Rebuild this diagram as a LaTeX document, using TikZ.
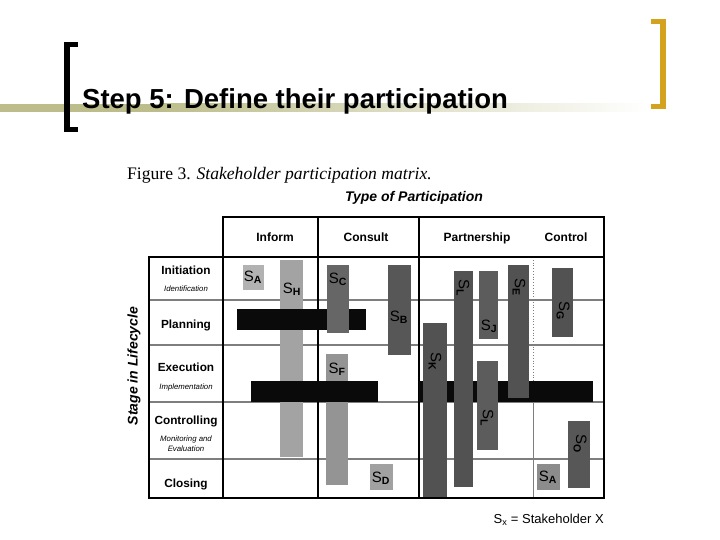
\documentclass[tikz,border=0pt]{standalone}
\usepackage{fontspec}
\setmainfont{Liberation Sans}
\newfontfamily\capfont{Liberation Serif}
\definecolor{gold}{HTML}{D4A21C}
\definecolor{khaki}{HTML}{BDBD8C}
\definecolor{gridgray}{HTML}{7E7E7E}
\definecolor{barblack}{HTML}{0A0A0A}
\tikzset{
  hdr/.style={font=\bfseries\fontsize{12}{14}\selectfont, inner sep=0, anchor=base},
  rowlab/.style={font=\bfseries\fontsize{11.8}{13}\selectfont, inner sep=0, anchor=base},
  sublab/.style={font=\itshape\fontsize{7.8}{9}\selectfont, inner sep=0, anchor=base},
  gridh/.style={draw=gridgray, line width=1.5pt},
  gridv/.style={draw=black, line width=1.2pt},
  framebox/.style={draw=black, line width=1.8pt},
  stk/.style={font=\fontsize{15}{16}\selectfont, inner sep=0, text=black},
  blackbar/.style={fill=barblack},
  speck/.style={fill=#1},
}
\newcommand\stkl[1]{S\textsubscript{\bfseries #1}}
\begin{document}
\begin{tikzpicture}[x=1pt,y=-1pt]
\useasboundingbox (0,0) rectangle (720,540);
\fill[white] (0,0) rectangle (720,540);
% title decoration
\fill[khaki] (0,104) rectangle (160,112);
\shade[left color=khaki, right color=white] (160,104) rectangle (650,112);
\fill[black] (64,42) rectangle (70,132);
\fill[black] (64,42) rectangle (78,47);
\fill[black] (64,127) rectangle (78,132);
\fill[gold] (660,19) rectangle (666,109);
\fill[gold] (651,19) rectangle (666,24);
\fill[gold] (651,104) rectangle (666,109);
\node[anchor=base west, inner sep=0, font=\bfseries\fontsize{27.5}{30}\selectfont] (title) at (82,109) {Step 5: Define their participation};
% caption
\node[anchor=west, inner sep=0, font=\capfont\fontsize{17.6}{20}\selectfont] (caption) at (127,175) {Figure 3. \textit{Stakeholder participation matrix.}};
\node[inner sep=0, font=\bfseries\itshape\fontsize{14}{16}\selectfont] (toptitle) at (414,198) {Type of Participation};
\node[inner sep=0, rotate=90, font=\bfseries\itshape\fontsize{14}{16}\selectfont] (sidetitle) at (134,366) {Stage in Lifecycle};
% grid lines
\foreach \yy in {300,345,402,459} \draw[gridh] (149,\yy) -- (604,\yy);
\draw[draw=gridgray, line width=0.8pt, dotted] (533,257) -- (533,402);
\draw[draw=gridgray, line width=0.9pt] (533,402) -- (533,498);
\draw[gridv] (318,217) -- (318,498);
\draw[gridv] (419,217) -- (419,498);
% inform / consult bars
\fill[speck=black!30] (243,265) rectangle (264,290);
\fill[speck=black!36] (280,260) rectangle (303,457);
\fill[blackbar] (237,309) rectangle (366,330);
\fill[speck=black!60] (327,265) rectangle (349,333);
\fill[speck=black!42] (326,354) rectangle (348,485);
\fill[blackbar] (251,381) rectangle (378,402);
\fill[speck=black!66] (388,265) rectangle (411,355);
\fill[speck=black!37] (370,464) rectangle (393,490);
% partnership / control bars
\fill[blackbar] (419,381) rectangle (593,402);
\fill[speck=black!68] (423,323) rectangle (447,497);
\fill[speck=black!68] (454,271) rectangle (473,487);
\fill[speck=black!64] (479,271) rectangle (498,339);
\fill[speck=black!64] (477,361) rectangle (498,450);
\fill[speck=black!68] (508,265) rectangle (529,398);
\fill[speck=black!68] (552,268) rectangle (573,337);
\fill[speck=black!66] (568,421) rectangle (590,488);
\fill[speck=black!45] (537,464) rectangle (560,490);
% stakeholder labels
\node[stk] (sA) at (253,277) {\stkl{A}};
\node[stk] (sH) at (292,289) {\stkl{H}};
\node[stk] (sC) at (338,279) {\stkl{C}};
\node[stk] (sF) at (337,369) {\stkl{F}};
\node[stk] (sB) at (399,317) {\stkl{B}};
\node[stk] (sD) at (381,478) {\stkl{D}};
\node[stk, rotate=-90] (sK) at (435,362) {\stkl{K}};
\node[stk, rotate=-90] (sL) at (463,288) {\stkl{L}};
\node[stk] (sJ) at (489,326) {\stkl{J}};
\node[stk, rotate=-90] (sL2) at (487,418) {\stkl{L}};
\node[stk, rotate=-90] (sE) at (519,287) {\stkl{E}};
\node[stk, rotate=-90] (sG) at (563,311) {\stkl{G}};
\node[stk, rotate=-90] (sO) at (580,444) {\stkl{O}};
\node[stk] (sA2) at (548,477) {\stkl{A}};
% frame
\draw[framebox] (223,217) -- (604,217) -- (604,498) -- (149,498) -- (149,257) -- (223,257) -- cycle;
\draw[framebox] (223,257) -- (604,257);
\draw[framebox] (223,217) -- (223,498);
% headers
\node[hdr] (inform) at (275,241) {Inform};
\node[hdr] (consult) at (366,241) {Consult};
\node[hdr] (partner) at (477,241) {Partnership};
\node[hdr] (control) at (566,241) {Control};
% row labels
\node[rowlab] (init) at (186,274) {Initiation};
\node[sublab] (ident) at (186,291) {Identification};
\node[rowlab] (plan) at (186,328) {Planning};
\node[rowlab] (exec) at (186,371) {Execution};
\node[sublab] (impl) at (186,389) {Implementation};
\node[rowlab] (ctrl) at (186,424) {Controlling};
\node[sublab] (monit) at (186,441) {Monitoring and};
\node[sublab] (evalu) at (186,451) {Evaluation};
\node[rowlab] (close) at (186,487) {Closing};
% legend
\node[anchor=east, inner sep=0, font=\fontsize{13}{15}\selectfont] (legend) at (604,520) {S\textsubscript{x} = Stakeholder X};
\end{tikzpicture}
\end{document}
